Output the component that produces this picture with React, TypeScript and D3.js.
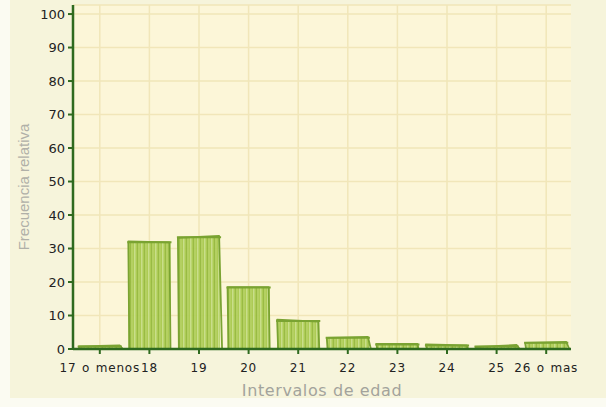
import React from 'react';
import * as d3 from 'd3';

const categories = ['17 o menos', '18', '19', '20', '21', '22', '23', '24', '25', '26 o mas'];
const values = [0.6, 32, 33.5, 18.5, 8.5, 3.5, 1.5, 1.2, 0.9, 2];
const yTicks = [0, 10, 20, 30, 40, 50, 60, 70, 80, 90, 100];

const W = 606;
const H = 407;
const plot = { left: 73, right: 571, top: 5, bottom: 349 };
const font = '"DejaVu Sans", Verdana, sans-serif';

// small fixed wobble so outlines look hand drawn
const wobble = [1, -1, 2, 0, -2, 1, 0, -1, 2, 1];

export default function App() {
  const x = d3.scaleBand()
    .domain(categories)
    .range([plot.left + 2, plot.right])
    .paddingInner(0.15)
    .paddingOuter(0.075);

  const y = d3.scaleLinear()
    .domain([0, 102.7])
    .range([plot.bottom, plot.top]);

  const bw = x.bandwidth();

  return (
    <svg width={W} height={H} style={{ position: 'absolute', left: 0, top: 0 }}>
      <defs>
        <pattern id="stripes" width="7" height="10" patternUnits="userSpaceOnUse">
          <rect width="7" height="10" fill="#a9c94e" />
          <rect x="1" width="1.5" height="10" fill="#c6dd86" />
          <rect x="4" width="1" height="10" fill="#94b83c" />
          <rect x="5.5" width="1" height="10" fill="#b8d46a" />
        </pattern>
      </defs>
      <rect width={W} height={H} fill="#fbfbf2" />
      <rect x={10} y={0} width={W - 10} height={398} fill="#f6f4db" />
      <rect x={plot.left} y={plot.top} width={plot.right - plot.left} height={plot.bottom - plot.top} fill="#fcf6d8" />

      {/* grid */}
      {yTicks.slice(1).map(t => (
        <line key={'gy' + t} x1={plot.left} x2={plot.right} y1={y(t)} y2={y(t)} stroke="#f1e6b9" strokeWidth={1.5} />
      ))}
      {categories.map(c => (
        <line key={'gx' + c} x1={x(c)! + bw / 2} x2={x(c)! + bw / 2} y1={plot.top} y2={plot.bottom} stroke="#f1e6b9" strokeWidth={1.5} />
      ))}
      <line x1={plot.left} x2={plot.right} y1={plot.top} y2={plot.top} stroke="#f1e6b9" strokeWidth={1.5} />

      {/* bars */}
      {categories.map((c, i) => {
        const x0 = x(c)!;
        const yTop = Math.min(y(values[i]), plot.bottom - 3);
        const w = wobble[i];
        const outline = `M${x0 + 1},${plot.bottom} L${x0},${yTop + w * 0.5} L${x0 + bw - 1},${yTop - w * 0.5} L${x0 + bw + (w > 0 ? 2 : 0)},${plot.bottom}`;
        return (
          <g key={c}>
            <rect x={x0} y={yTop} width={bw} height={plot.bottom - yTop} fill="url(#stripes)" opacity={0.95} />
            <path d={outline} fill="none" stroke="#7aa332" strokeWidth={1.8} strokeLinejoin="round" />
            <line x1={x0 - 1} x2={x0 + bw + 1} y1={yTop + 0.5} y2={yTop + 0.5} stroke="#7aa332" strokeWidth={2} />
          </g>
        );
      })}

      {/* axes */}
      <line x1={plot.left} x2={plot.left} y1={plot.top} y2={plot.bottom + 1} stroke="#2f6a1f" strokeWidth={2.5} />
      <line x1={plot.left} x2={plot.right} y1={plot.bottom} y2={plot.bottom} stroke="#2f6a1f" strokeWidth={2.5} />
      {yTicks.map(t => (
        <g key={'ty' + t}>
          <line x1={plot.left - 5} x2={plot.left} y1={y(t)} y2={y(t)} stroke="#2f6a1f" strokeWidth={2} />
          <text x={plot.left - 8} y={y(t)} dy="0.35em" textAnchor="end" fontFamily={font} fontSize={13} fill="#222">{t}</text>
        </g>
      ))}
      {categories.map(c => (
        <g key={'tx' + c}>
          <line x1={x(c)! + bw / 2} x2={x(c)! + bw / 2} y1={plot.bottom} y2={plot.bottom + 5} stroke="#2f6a1f" strokeWidth={2} />
          <text x={x(c)! + bw / 2} y={plot.bottom + 23} textAnchor="middle" fontFamily={font} fontSize={12} letterSpacing={0.8} wordSpacing={1} fill="#222">{c}</text>
        </g>
      ))}

      <text x={322} y={396} textAnchor="middle" fontFamily={font} fontSize={16} letterSpacing={0.6} fill="#a3a39c">Intervalos de edad</text>
      <text transform={`translate(29,187) rotate(-90)`} textAnchor="middle" fontFamily={'"Liberation Sans", Arial, sans-serif'} fontSize={15} fill="#b0b0a8">Frecuencia relativa</text>
    </svg>
  );
}
